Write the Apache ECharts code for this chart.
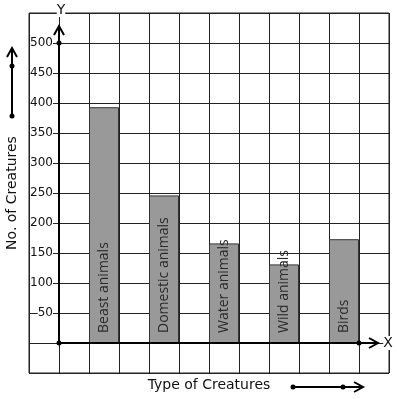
<!DOCTYPE html>
<html><head><meta charset="utf-8">
<script src="https://cdn.jsdelivr.net/npm/echarts@6/dist/echarts.min.js"></script>
<style>html,body{margin:0;padding:0;background:#fff}#c{width:397px;height:399px}</style>
</head><body><div id="c"></div>
<script>
const categories = ['Beast animals', 'Domestic animals', 'Water animals', 'Wild animals', 'Birds'];
const values = [393, 246, 166, 131, 173];
const yTicks = [50, 100, 150, 200, 250, 300, 350, 400, 450, 500];
const xTitle = 'Type of Creatures';
const yTitle = 'No. of Creatures';

// 12 grid slots; bars sit in every other slot starting at slot 2
const slots = [];
const barData = [];
for (let i = 0; i < 12; i++) {
  const k = (i - 2) / 2;
  if (i >= 2 && i % 2 === 0 && k < categories.length) {
    slots.push(categories[k]);
    barData.push(values[k]);
  } else {
    slots.push('gap' + i);
    barData.push(null);
  }
}

const FONT = 'DejaVu Sans';
const chart = echarts.init(document.getElementById('c'), null, {renderer: 'canvas'});
chart.setOption({
  animation: false,
  backgroundColor: '#fff',
  grid: {left: 29, top: 13, right: 8, bottom: 26, containLabel: false, outerBoundsMode: 'none',
         show: true, borderColor: '#222', borderWidth: 1, backgroundColor: 'transparent'},
  xAxis: {
    type: 'category', data: slots, boundaryGap: true,
    axisLine: {show: false}, axisTick: {show: false}, axisLabel: {show: false},
    splitLine: {show: true, interval: 0, lineStyle: {color: '#222', width: 1}},
    name: xTitle, nameLocation: 'middle', nameGap: 5,
    nameTextStyle: {fontFamily: FONT, fontSize: 14, color: '#111'}
  },
  yAxis: {
    type: 'value', min: -50, max: 550, interval: 50, offset: -30,
    axisLine: {show: false}, axisTick: {show: false},
    splitLine: {show: true, lineStyle: {color: '#222', width: 1}},
    axisLabel: {
      margin: 6, fontFamily: FONT, fontSize: 12, color: '#111',
      backgroundColor: '#fff', padding: [0, 0, 0, 0],
      formatter: v => (yTicks.indexOf(v) >= 0 ? String(v) : '')
    },
    name: yTitle, nameLocation: 'middle', nameGap: 40,
    nameTextStyle: {fontFamily: FONT, fontSize: 14, color: '#111'}
  },
  series: [{
    type: 'bar', data: barData, barWidth: '100%', barGap: '0%',
    itemStyle: {color: '#999999', borderColor: '#333', borderWidth: 1},
    label: {
      show: true, position: 'insideBottom', rotate: 90, align: 'left', verticalAlign: 'middle',
      distance: 10, formatter: p => p.name, fontFamily: 'Open Sans', fontSize: 14, color: '#2a2a2a'
    },
    z: 3
  }]
});

// decorations (arrows, dots, axis letters)
const px = (slot) => chart.convertToPixel({xAxisIndex: 0}, slot);
const py = (v) => chart.convertToPixel({yAxisIndex: 0}, v);
const half = (px(1) - px(0)) / 2;
const x0 = px(0) + half;
const y0 = py(0);
const yTop = py(500);
const xBirdsRight = px(10) + half;
const S = {stroke: '#000', lineWidth: 2, fill: null};
const dot = (x, y) => ({type: 'circle', shape: {cx: x, cy: y, r: 2.5}, style: {fill: '#000'}, z: 20});
const els = [
  // y axis
  {type: 'line', shape: {x1: x0, y1: y0, x2: x0, y2: 26}, style: S, z: 10},
  {type: 'polyline', shape: {points: [[x0 - 5, 35], [x0, 26], [x0 + 5, 35]]}, style: S, z: 10},
  // x axis
  {type: 'line', shape: {x1: x0, y1: y0, x2: 378, y2: y0}, style: S, z: 10},
  {type: 'polyline', shape: {points: [[369, y0 - 5], [378, y0], [369, y0 + 5]]}, style: S, z: 10},
  dot(x0, y0), dot(x0, yTop), dot(xBirdsRight, y0),
  {type: 'text', x: 388, y: y0, style: {text: 'X', font: '14px ' + FONT, fill: '#111', align: 'center', verticalAlign: 'middle', backgroundColor: '#fff'}, z: 15},
  {type: 'text', x: 61, y: 10, style: {text: 'Y', font: '14px ' + FONT, fill: '#111', align: 'center', verticalAlign: 'middle', backgroundColor: '#fff'}, z: 15},
  // left arrow
  {type: 'line', shape: {x1: 12, y1: 116, x2: 12, y2: 48}, style: S, z: 10},
  {type: 'polyline', shape: {points: [[7, 57], [12, 48], [17, 57]]}, style: S, z: 10},
  dot(12, 66), dot(12, 116),
  // bottom arrow
  {type: 'line', shape: {x1: 293, y1: 387, x2: 363, y2: 387}, style: S, z: 10},
  {type: 'polyline', shape: {points: [[354, 382], [363, 387], [354, 392]]}, style: S, z: 10},
  dot(293, 387), dot(343, 387)
];
chart.setOption({graphic: {elements: els}});
</script>
</body></html>
